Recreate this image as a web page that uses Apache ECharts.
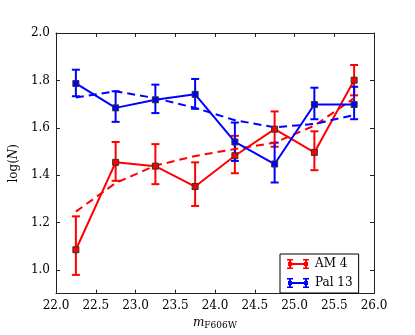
<!DOCTYPE html>
<html lang="en">
  <head>
    <meta charset="UTF-8" />
    <title>log(N) vs m_F606W</title>
    <script src="https://cdn.jsdelivr.net/npm/echarts@6/dist/echarts.min.js"></script>
    <style>
      html, body { margin: 0; padding: 0; background: #fff; }
      #main { width: 415px; height: 335px; }
    </style>
  </head>
  <body>
    <div id="main"></div>
    <script>
      // magnitude bins
      var mags = [22.25, 22.75, 23.25, 23.75, 24.25, 24.75, 25.25, 25.75];

      // AM 4: observed log(N), error limits, and model (dashed)
      var am4 = [1.085, 1.454, 1.438, 1.352, 1.482, 1.594, 1.496, 1.801];
      var am4Lo = [0.979, 1.376, 1.362, 1.270, 1.408, 1.520, 1.421, 1.737];
      var am4Hi = [1.226, 1.540, 1.531, 1.454, 1.566, 1.669, 1.585, 1.865];
      var am4Model = [1.246, 1.367, 1.440, 1.481, 1.510, 1.537, 1.609, 1.725];

      // Pal 13
      var pal13 = [1.787, 1.684, 1.718, 1.741, 1.540, 1.447, 1.698, 1.698];
      var pal13Lo = [1.733, 1.625, 1.662, 1.680, 1.460, 1.369, 1.636, 1.636];
      var pal13Hi = [1.845, 1.754, 1.782, 1.806, 1.622, 1.537, 1.769, 1.773];
      var pal13Model = [1.728, 1.754, 1.725, 1.684, 1.632, 1.602, 1.616, 1.654];

      var yTicks = [1.0, 1.2, 1.4, 1.6, 1.8, 2.0];

      var font = 'DejaVu Serif';
      var frame = '#222';
      // error-bar legend icon (line + caps + square markers)
      var ebIcon = 'path://M3 0h2v10h-2z M1 0h6v1.4h-6z M1 8.6h6v1.4h-6z ' +
        'M19 0h2v10h-2z M17 0h6v1.4h-6z M17 8.6h6v1.4h-6z ' +
        'M4 4h16v2h-16z M2 3h4v4h-4z M18 3h4v4h-4z';

      function pairs(ys) {
        return mags.map(function (x, i) { return [x, ys[i]]; });
      }
      function bars(lo, hi) {
        return mags.map(function (x, i) { return [x, lo[i], hi[i]]; });
      }
      function errorBars(color) {
        return function (params, api) {
          var top = api.coord([api.value(0), api.value(2)]);
          var bot = api.coord([api.value(0), api.value(1)]);
          var st = { stroke: color, lineWidth: 2 };
          return {
            type: 'group',
            children: [
              { type: 'line', shape: { x1: top[0], y1: top[1], x2: bot[0], y2: bot[1] }, style: st },
              { type: 'line', shape: { x1: top[0] - 4, y1: top[1], x2: top[0] + 4, y2: top[1] }, style: st },
              { type: 'line', shape: { x1: bot[0] - 4, y1: bot[1], x2: bot[0] + 4, y2: bot[1] }, style: st }
            ]
          };
        };
      }

      var xCommon = {
        type: 'value', min: 22, max: 26, interval: 0.5,
        axisLine: { lineStyle: { color: frame, width: 1 } },
        axisTick: { inside: true, length: 4, lineStyle: { color: frame } },
        splitLine: { show: false }
      };
      var yCommon = {
        type: 'value', min: 0.9, max: 2.0,
        axisLine: { show: true, lineStyle: { color: frame, width: 1 } },
        axisTick: { show: true, inside: true, length: 4, customValues: yTicks, lineStyle: { color: frame } },
        splitLine: { show: false }
      };

      var myChart = echarts.init(document.getElementById('main'));
      var option = {
        animation: false,
        backgroundColor: '#fff',
        grid: { left: 52, top: 33, width: 322, height: 268 },
        legend: {
          data: [
            { name: 'AM 4', icon: ebIcon, itemStyle: { color: '#ff0000', borderWidth: 0 } },
            { name: 'Pal 13', icon: ebIcon, itemStyle: { color: '#0000ff', borderWidth: 0 } }
          ],
          orient: 'vertical',
          left: 280, top: 254,
          padding: [4, 6, 4, 7],
          itemWidth: 24, itemHeight: 10, itemGap: 7, itemTextGap: 11,
          itemStyle: { borderWidth: 0 },
          borderColor: '#000', borderWidth: 1, borderRadius: 0,
          backgroundColor: '#fff',
          textStyle: { fontFamily: font, fontSize: 12, color: '#000', lineHeight: 12 }
        },
        xAxis: [
          Object.assign({}, xCommon, {
            position: 'bottom',
            axisLabel: {
              color: '#000', fontFamily: font, fontSize: 12, margin: 6,
              formatter: function (v) { return v.toFixed(1); }
            },
            name: '{m|m}{s|F606W}',
            nameLocation: 'middle', nameGap: 20,
            nameTextStyle: {
              rich: {
                m: { fontFamily: font, fontStyle: 'italic', fontSize: 12, color: '#000' },
                s: { fontFamily: font, fontSize: 9, color: '#000', padding: [6, 0, 0, 0] }
              }
            }
          }),
          Object.assign({}, xCommon, { position: 'top', axisLabel: { show: false } })
        ],
        yAxis: [
          Object.assign({}, yCommon, {
            position: 'left',
            axisLabel: {
              color: '#000', fontFamily: font, fontSize: 12, margin: 6,
              customValues: yTicks,
              formatter: function (v) { return v.toFixed(1); }
            },
            name: '{a|log(}{i|N}{a|)}',
            nameLocation: 'middle', nameGap: 36,
            nameTextStyle: {
              rich: {
                a: { fontFamily: font, fontSize: 12, color: '#000' },
                i: { fontFamily: font, fontSize: 12, fontStyle: 'italic', color: '#000' }
              }
            }
          }),
          Object.assign({}, yCommon, { position: 'right', axisLabel: { show: false } })
        ],
        series: [
          {
            name: 'AM 4 model', type: 'line', data: pairs(am4Model),
            showSymbol: false, silent: true,
            lineStyle: { color: '#ff0000', width: 2, type: [8, 5] }
          },
          {
            name: 'AM 4 err', type: 'custom', data: bars(am4Lo, am4Hi),
            renderItem: errorBars('#ff0000'), encode: { x: 0, y: [1, 2] }
          },
          {
            name: 'AM 4', type: 'line', data: pairs(am4),
            symbol: 'rect', symbolSize: 6,
            lineStyle: { color: '#ff0000', width: 2 },
            itemStyle: { color: '#ff0000', borderColor: '#333', borderWidth: 1 }
          },
          {
            name: 'Pal 13 model', type: 'line', data: pairs(pal13Model),
            showSymbol: false, silent: true,
            lineStyle: { color: '#0000ff', width: 2, type: [8, 5] }
          },
          {
            name: 'Pal 13 err', type: 'custom', data: bars(pal13Lo, pal13Hi),
            renderItem: errorBars('#0000ff'), encode: { x: 0, y: [1, 2] }
          },
          {
            name: 'Pal 13', type: 'line', data: pairs(pal13),
            symbol: 'rect', symbolSize: 6,
            lineStyle: { color: '#0000ff', width: 2 },
            itemStyle: { color: '#0000ff', borderColor: '#333', borderWidth: 1 }
          }
        ]
      };
      myChart.setOption(option);
    </script>
  </body>
</html>
